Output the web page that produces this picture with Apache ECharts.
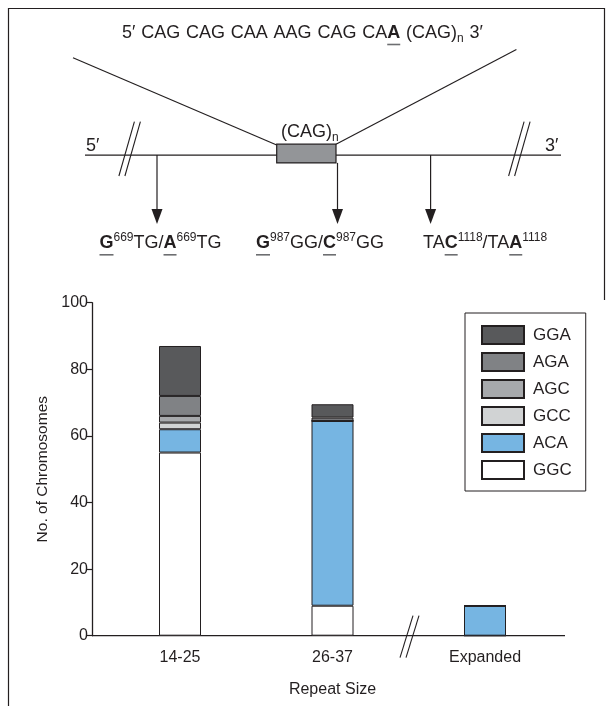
<!DOCTYPE html>
<html><head><meta charset="utf-8">
<script src="https://cdn.jsdelivr.net/npm/echarts@6/dist/echarts.min.js"></script>
<style>html,body{margin:0;padding:0;background:#fff}#c{width:611px;height:706px}</style>
</head><body><div id="c"></div>
<script>
// ---- data ----
const categories = ['14-25', '26-37', 'Expanded'];
const GGC = [55, 9, 0];
const ACA = [7, 55.5, 9];
const GCC = [2, 0, 0];
const AGC = [2, 0, 0];
const AGA = [6, 1, 0];
const GGA = [15, 4, 0];
const yTicks = [0, 20, 40, 60, 80, 100];
const legendOrder = ['GGA', 'AGA', 'AGC', 'GCC', 'ACA', 'GGC'];

const INK = '#231f20';
const REG = '"Liberation Sans",Arial,sans-serif';
const AX = '"Liberation Sans",Arial,sans-serif';
const colors = {GGA:'#58595b', AGA:'#808285', AGC:'#a7a9ac', GCC:'#d1d3d4', ACA:'#76b5e2', GGC:'#ffffff'};
const seriesData = {GGC, ACA, GCC, AGC, AGA, GGA};
const stackOrder = ['GGC', 'ACA', 'GCC', 'AGC', 'AGA', 'GGA'];

const chart = echarts.init(document.getElementById('c'), null, {renderer: 'canvas'});
const grid = {left: 103.75, right: 49.75, top: 302.7, bottom: 70.3};
const yOffset = 11.75;

chart.setOption({
  animation: false,
  backgroundColor: '#fff',
  grid: grid,
  legend: {
    data: legendOrder, orient: 'vertical', left: 465, top: 313,
    itemWidth: 42, itemHeight: 18, itemGap: 7, icon: 'rect',
    padding: [12, 14, 11, 16], borderColor: INK, borderWidth: 1,
    textStyle: {fontSize: 17, fontFamily: REG, color: INK, padding: [0, 0, 0, 4]}
  },
  xAxis: {
    type: 'category', data: categories,
    axisLine: {show: false}, axisTick: {show: false},
    axisLabel: {margin: 14, fontSize: 16, fontFamily: AX, color: INK},
    name: 'Repeat Size', nameLocation: 'middle', nameGap: 46,
    nameTextStyle: {fontSize: 16, fontFamily: AX, color: INK}
  },
  yAxis: {
    type: 'value', min: yTicks[0], max: yTicks[yTicks.length - 1], interval: yTicks[1] - yTicks[0],
    offset: yOffset,
    axisLine: {show: true, lineStyle: {color: INK, width: 1.3}},
    axisTick: {show: true, length: 5, lineStyle: {color: INK, width: 1.2}},
    axisLabel: {margin: 4, fontSize: 16, fontFamily: AX, color: INK},
    splitLine: {show: false},
    name: 'No. of Chromosomes', nameLocation: 'middle', nameGap: 33, nameRotate: 90,
    nameTextStyle: {fontSize: 15.5, fontFamily: AX, color: INK}
  },
  series: stackOrder.map(k => ({
    name: k, type: 'bar', stack: 'all', barWidth: 42,
    data: seriesData[k],
    itemStyle: {color: colors[k], borderColor: INK, borderWidth: 1}
  }))
});

// ---- diagram annotation ----
const ctx = document.createElement('canvas').getContext('2d');
function fnt(size, bold) { return (bold ? 'bold ' : '') + size + 'px ' + REG; }
function w(t, size, bold) { ctx.font = fnt(size, bold); return ctx.measureText(t).width; }
const G = [];
function txt(t, x, base, size, bold) {
  G.push({type: 'text', silent: true, style: {text: t, x: x, y: base - 0.35 * size, verticalAlign: 'middle',
    font: fnt(size, bold), fill: INK}});
}
function line(x1, y1, x2, y2, lw, col) {
  G.push({type: 'line', silent: true, shape: {x1, y1, x2, y2}, style: {stroke: col || INK, lineWidth: lw || 1.2}});
}
function label(segs, x, base, size, spaceExtra) {
  const small = Math.round(size * 0.67);
  segs.forEach(([t, k]) => {
    if (k === 'sup' || k === 'sub') {
      const b = k === 'sup' ? base - size * 0.4 : base + size * 0.22;
      txt(t, x, b, small, false); x += w(t, small, false);
    } else if (k === 'bu') {
      const ww = w(t, size, true);
      txt(t, x, base, size, true);
      line(x, base + 5.5, x + ww, base + 5.5, 1.6, '#6d6e71');
      x += ww;
    } else {
      const parts = t.split(' ');
      parts.forEach((p, i) => {
        if (p) { txt(p, x, base, size, false); x += w(p, size, false); }
        if (i < parts.length - 1) x += w(' ', size, false) + (spaceExtra || 0);
      });
    }
  });
}
const FS = 18;
label([['5′ CAG CAG CAA AAG CAG CA', ''], ['A', 'bu'], [' (CAG)', ''], ['n', 'sub'], [' 3′', '']], 122, 39, FS, 0.8);
label([['(CAG)', ''], ['n', 'sub']], 281, 138, FS);
label([['5′', '']], 86, 152, FS);
label([['3′', '']], 545, 152, FS);
label([['G', 'bu'], ['669', 'sup'], ['TG/', ''], ['A', 'bu'], ['669', 'sup'], ['TG', '']], 99.5, 249.3, FS);
label([['G', 'bu'], ['987', 'sup'], ['GG/', ''], ['C', 'bu'], ['987', 'sup'], ['GG', '']], 256, 249.3, FS);
label([['TA', ''], ['C', 'bu'], ['1118', 'sup'], ['/TA', ''], ['A', 'bu'], ['1118', 'sup']], 423, 249.3, FS);

// frame
G.push({type: 'polyline', silent: true, shape: {points: [[8.5, 706], [8.5, 8.5], [604.5, 8.5], [604.5, 300]]},
  style: {stroke: INK, lineWidth: 1.2, fill: null}});
// gene line, funnel lines, box
line(85, 155.1, 561, 155.1, 1.3);
line(73, 57.7, 276.7, 145, 1.2);
line(516.4, 49.5, 336, 144.2, 1.2);
G.push({type: 'rect', silent: true, shape: {x: 276.7, y: 144.2, width: 59.3, height: 18.7},
  style: {fill: '#939598', stroke: INK, lineWidth: 1.2}});
// break marks on gene line
[[118.9, 124.9], [508.6, 514.6]].forEach(([a, b]) => {
  line(a, 176, a + 15.5, 121.6, 1.1);
  line(b, 176, b + 15.5, 121.6, 1.1);
});
// arrows
[[157, 155.1], [337.5, 162.9], [430.6, 155.1]].forEach(([x, y0]) => {
  line(x, y0, x, 214, 1.2);
  G.push({type: 'polygon', silent: true, shape: {points: [[x - 5.5, 209], [x + 5.5, 209], [x, 224]]},
    style: {fill: INK}});
});

// x axis line across the chart + break mark
const y0 = chart.convertToPixel({yAxisIndex: 0}, 0);
const axX0 = grid.left - yOffset;
line(axX0, y0, 565, y0, 1.3);
line(400, y0 + 22, 413, y0 - 20, 1.1);
line(406, y0 + 22, 419, y0 - 20, 1.1);

chart.setOption({graphic: G});
</script></body></html>
